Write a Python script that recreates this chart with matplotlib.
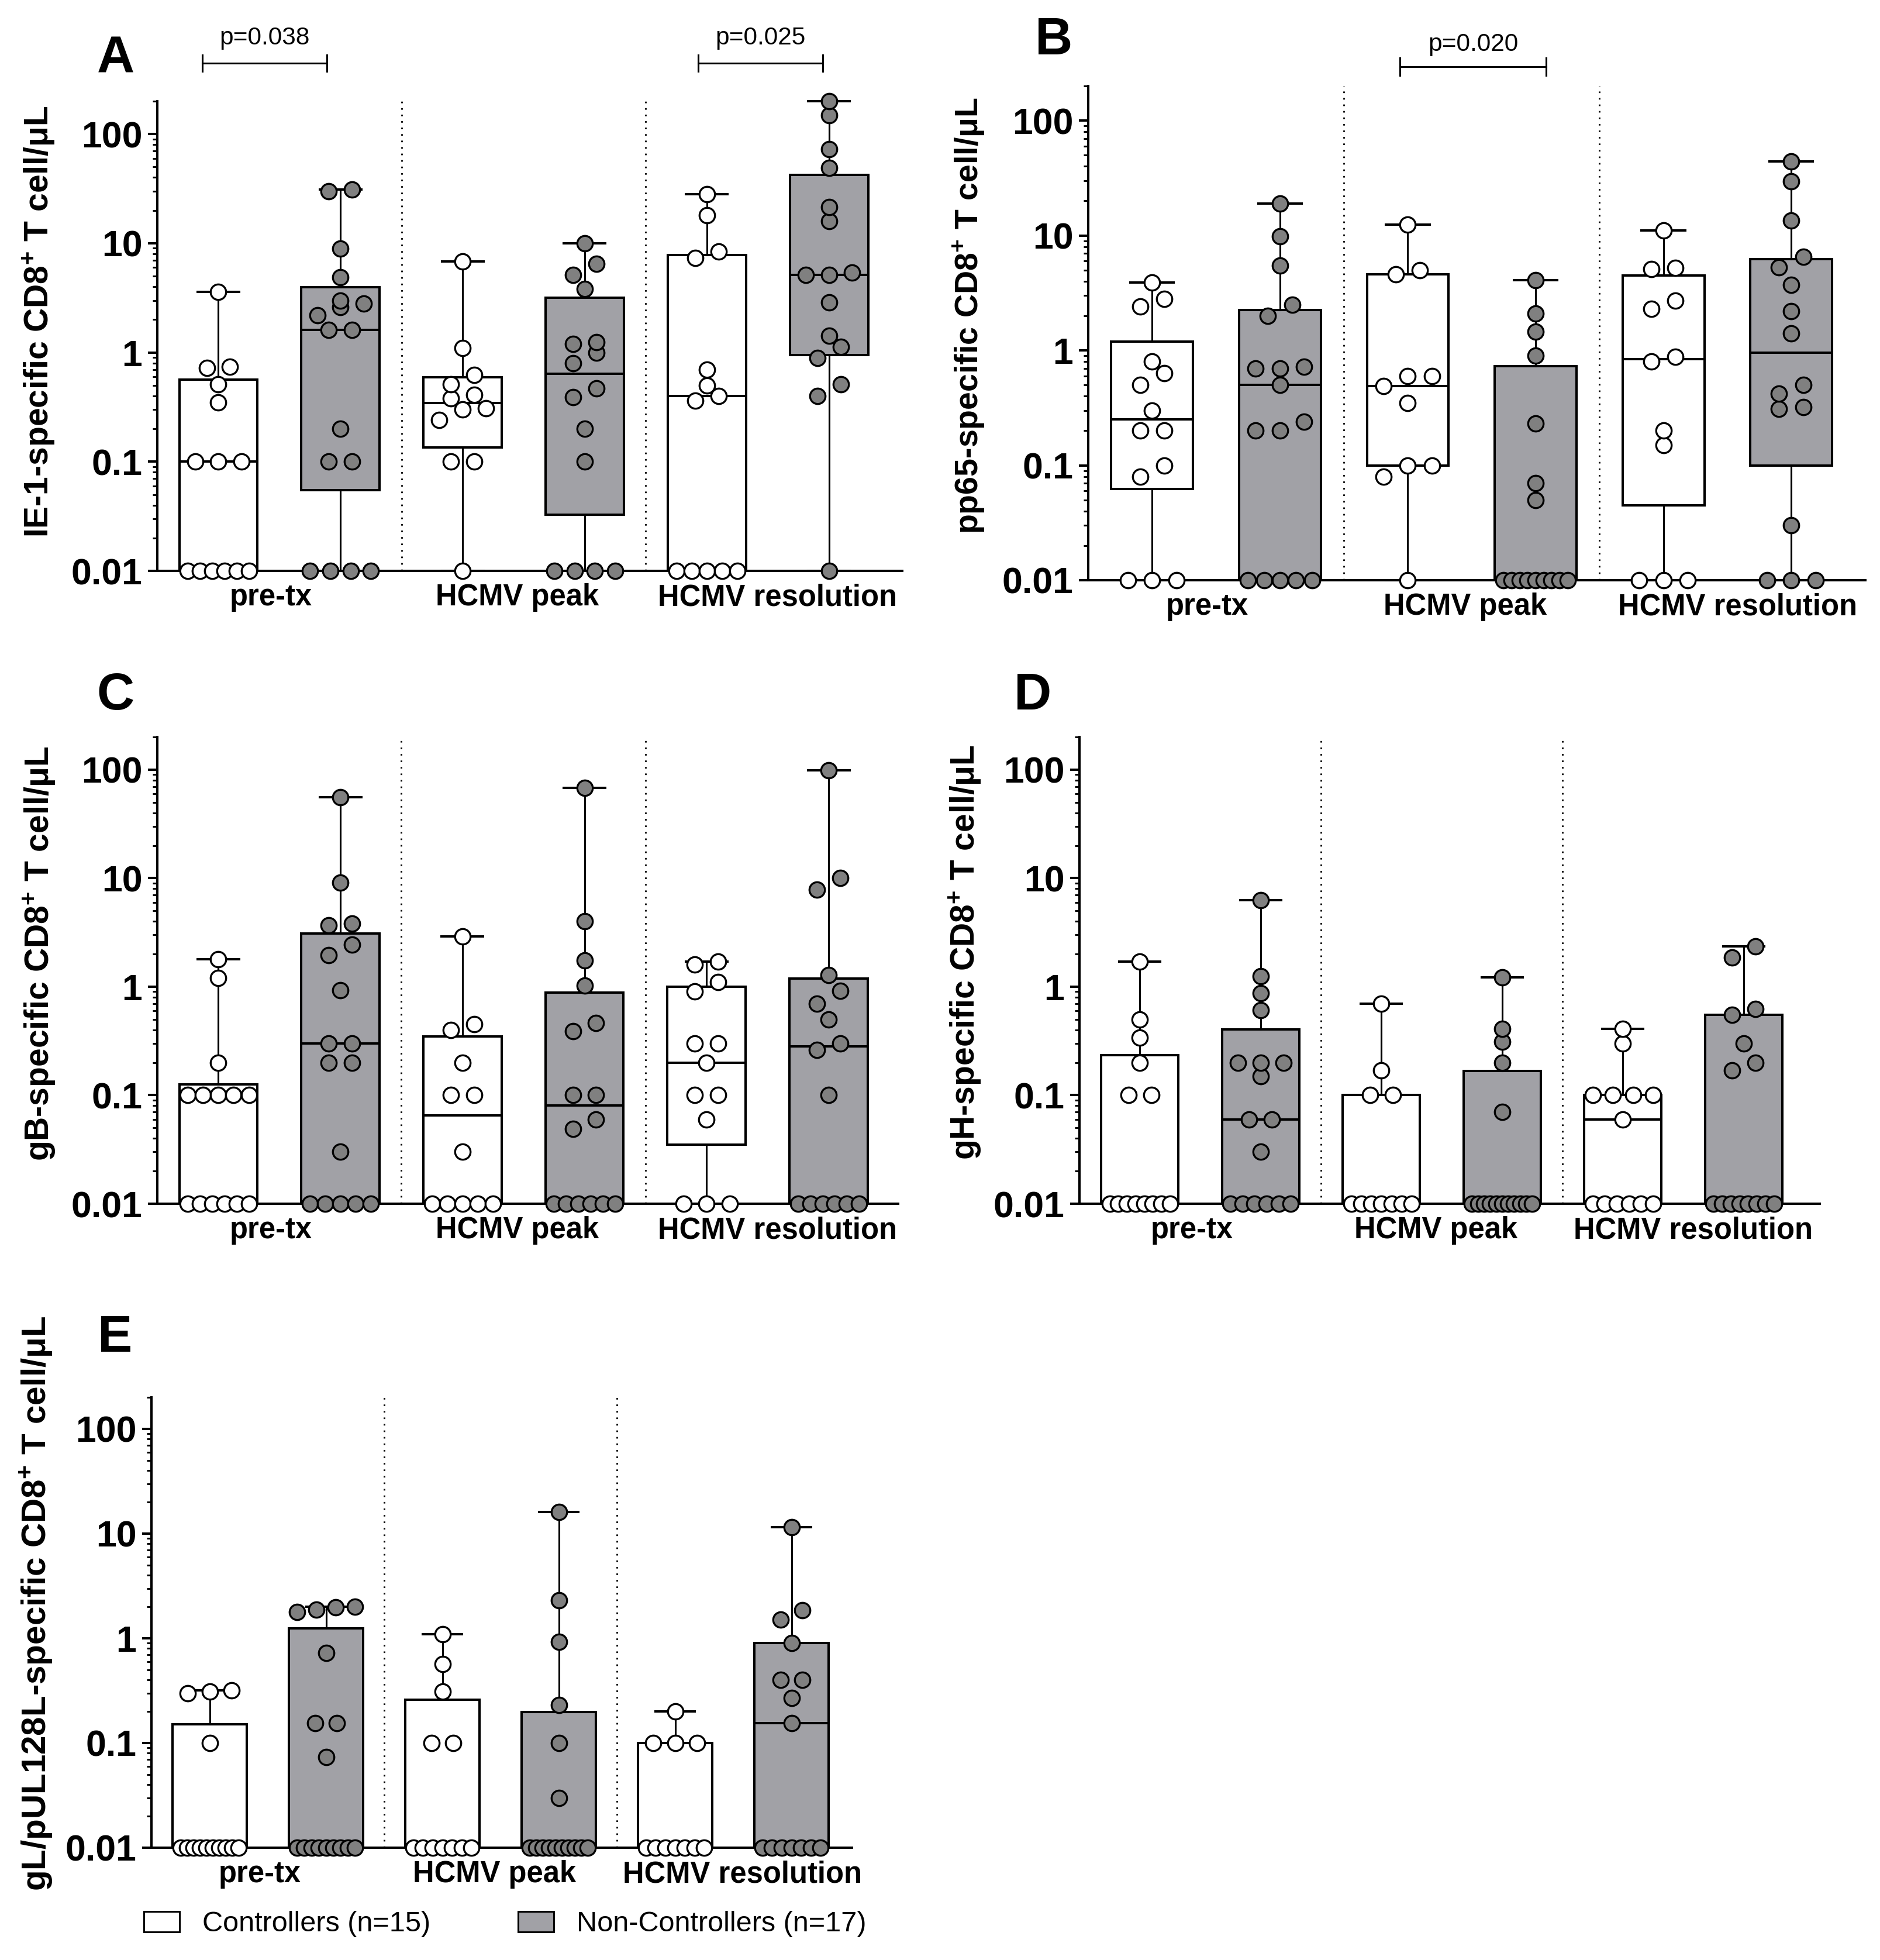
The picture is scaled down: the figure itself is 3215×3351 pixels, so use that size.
import numpy as np
import matplotlib
matplotlib.use('Agg')
import matplotlib.pyplot as plt
from matplotlib.patches import Patch
from matplotlib.ticker import FixedLocator, LogLocator, NullFormatter

plt.rcParams['mathtext.fontset'] = 'custom'
plt.rcParams['mathtext.rm'] = 'Liberation Sans'
plt.rcParams['mathtext.bf'] = 'Liberation Sans:bold'

W, H = 3215, 3351
FONT = ['Liberation Sans', 'DejaVu Sans']

timepoints = ['pre-tx', 'HCMV peak', 'HCMV resolution']
legend_labels = ['Controllers (n=15)', 'Non-Controllers (n=17)']
yticks = [0.01, 0.1, 1, 10, 100]
ytick_labels = ['0.01', '0.1', '1', '10', '100']

# each list: [pre-tx, HCMV peak, HCMV resolution], cells/uL (0.01 = below detection)
ie1_ctrl = [
    [0.01, 0.01, 0.01, 0.01, 0.01, 0.01, 0.1, 0.1, 0.1, 0.35, 0.51, 0.72, 0.74, 3.6],
    [0.01, 0.1, 0.1, 0.24, 0.30, 0.31, 0.38, 0.41, 0.51, 0.62, 1.1, 6.8],
    [0.01, 0.01, 0.01, 0.01, 0.01, 0.36, 0.4, 0.5, 0.7, 7.3, 8.4, 18, 28],
]
ie1_nonc = [
    [0.01, 0.01, 0.01, 0.01, 0.1, 0.1, 0.2, 1.6, 1.6, 2.2, 2.6, 2.8, 3.0, 4.9, 8.9, 30, 31],
    [0.01, 0.01, 0.01, 0.01, 0.1, 0.2, 0.39, 0.47, 0.8, 0.99, 1.2, 1.25, 3.8, 5.1, 6.5, 10],
    [0.01, 0.4, 0.51, 0.89, 1.12, 1.42, 2.86, 5.1, 5.1, 5.4, 16, 21.5, 49, 73, 149, 200],
]
pp65_ctrl = [
    [0.01, 0.01, 0.01, 0.08, 0.1, 0.2, 0.2, 0.3, 0.5, 0.63, 0.8, 2.4, 2.8, 3.9],
    [0.01, 0.08, 0.1, 0.1, 0.35, 0.49, 0.6, 0.6, 4.6, 5.0, 12.5],
    [0.01, 0.01, 0.01, 0.15, 0.2, 0.8, 0.88, 2.3, 2.7, 5.1, 5.2, 11],
]
pp65_nonc = [
    [0.01, 0.01, 0.01, 0.01, 0.01, 0.2, 0.2, 0.24, 0.5, 0.7, 0.7, 0.72, 2.0, 2.5, 5.5, 9.8, 19],
    [0.01, 0.01, 0.01, 0.01, 0.01, 0.01, 0.01, 0.01, 0.01, 0.05, 0.07, 0.23, 0.9, 1.45, 2.1, 4.1],
    [0.01, 0.01, 0.01, 0.03, 0.31, 0.32, 0.42, 0.5, 1.4, 2.2, 3.7, 5.3, 6.5, 13.5, 29.5, 44],
]
gb_ctrl = [
    [0.01, 0.01, 0.01, 0.01, 0.01, 0.01, 0.1, 0.1, 0.1, 0.1, 0.1, 0.2, 1.2, 1.8],
    [0.01, 0.01, 0.01, 0.01, 0.01, 0.03, 0.1, 0.1, 0.2, 0.4, 0.45, 2.9],
    [0.01, 0.01, 0.01, 0.06, 0.1, 0.1, 0.2, 0.3, 0.3, 0.9, 1.1, 1.6, 1.7],
]
gb_nonc = [
    [0.01, 0.01, 0.01, 0.01, 0.01, 0.03, 0.2, 0.2, 0.3, 0.3, 0.93, 1.95, 2.45, 3.7, 3.8, 9.1, 56],
    [0.01, 0.01, 0.01, 0.01, 0.01, 0.01, 0.049, 0.06, 0.1, 0.1, 0.39, 0.46, 1.02, 1.75, 4.0, 68],
    [0.01, 0.01, 0.01, 0.01, 0.01, 0.01, 0.1, 0.26, 0.3, 0.5, 0.7, 0.92, 1.28, 7.8, 10, 98],
]
gh_ctrl = [
    [0.01, 0.01, 0.01, 0.01, 0.01, 0.01, 0.01, 0.01, 0.1, 0.1, 0.2, 0.34, 0.5, 1.7],
    [0.01, 0.01, 0.01, 0.01, 0.01, 0.01, 0.01, 0.1, 0.1, 0.17, 0.7],
    [0.01, 0.01, 0.01, 0.01, 0.01, 0.01, 0.06, 0.1, 0.1, 0.1, 0.1, 0.3, 0.41],
]
gh_nonc = [
    [0.01, 0.01, 0.01, 0.01, 0.01, 0.01, 0.03, 0.06, 0.06, 0.15, 0.2, 0.2, 0.2, 0.61, 0.87, 1.25, 6.3],
    [0.01, 0.01, 0.01, 0.01, 0.01, 0.01, 0.01, 0.01, 0.01, 0.01, 0.01, 0.07, 0.2, 0.31, 0.41, 1.22],
    [0.01, 0.01, 0.01, 0.01, 0.01, 0.01, 0.01, 0.01, 0.17, 0.2, 0.3, 0.55, 0.62, 1.85, 2.35],
]
gl_ctrl = [
    [0.01, 0.01, 0.01, 0.01, 0.01, 0.01, 0.01, 0.01, 0.01, 0.01, 0.1, 0.3, 0.31, 0.32],
    [0.01, 0.01, 0.01, 0.01, 0.01, 0.01, 0.01, 0.1, 0.1, 0.31, 0.57, 1.1],
    [0.01, 0.01, 0.01, 0.01, 0.01, 0.01, 0.01, 0.1, 0.1, 0.1, 0.2],
]
gl_nonc = [
    [0.01, 0.01, 0.01, 0.01, 0.01, 0.01, 0.01, 0.01, 0.01, 0.073, 0.155, 0.155, 0.72, 1.78, 1.87, 1.97, 2.0],
    [0.01, 0.01, 0.01, 0.01, 0.01, 0.01, 0.01, 0.01, 0.01, 0.01, 0.03, 0.1, 0.23, 0.92, 2.3, 16],
    [0.01, 0.01, 0.01, 0.01, 0.01, 0.01, 0.01, 0.155, 0.27, 0.4, 0.4, 0.9, 1.5, 1.85, 11.5],
]

# p-value brackets per panel: (x start, x end, text)
brackets_a = [(-0.13, 0.89, 'p=0.038'), (3.93, 4.95, 'p=0.025')]
brackets_b = [(1.94, 3.08, 'p=0.020')]

panels = [
    ('A', 'IE-1-specific CD8$^{\\mathbf{+}}$ T cell/μL', ie1_ctrl, ie1_nonc, brackets_a),
    ('B', 'pp65-specific CD8$^{\\mathbf{+}}$ T cell/μL', pp65_ctrl, pp65_nonc, brackets_b),
    ('C', 'gB-specific CD8$^{\\mathbf{+}}$ T cell/μL', gb_ctrl, gb_nonc, []),
    ('D', 'gH-specific CD8$^{\\mathbf{+}}$ T cell/μL', gh_ctrl, gh_nonc, []),
    ('E', 'gL/pUL128L-specific CD8$^{\\mathbf{+}}$ T cell/μL', gl_ctrl, gl_nonc, []),
]

# axes rectangles in pixels: left, top, right, bottom, and right x limit
rects = [(269, 173, 1543, 976), (1861, 147, 3190, 992), (269, 1260, 1536, 2058),
         (1846, 1260, 3112, 2058), (259, 2389, 1457, 3159)]
xmax = [5.6, 5.58, 5.57, 5.63, 5.52]
letter_pos = [(198, 102), (1802, 70), (197, 1190), (1766, 1190), (197, 2288)]
ylabel_pos = [(66, 550), (1657, 540), (67, 1630), (1650, 1628), (62, 2741)]
ylabel_size = [41, 40, 41, 41, 42]
bracket_y = [(1.081, 1.134), (1.039, 1.084)]

CTRL_FILL = 'white'
NONC_FILL = '#a1a1a6'
NONC_DOT = '#808080'


def swarm_offsets(vals, step=0.19, half=0.25, thr=0.12):
    # spread points that sit at nearly the same height side by side
    vals = np.asarray(vals, float)
    order = np.argsort(vals, kind='stable')
    logs = np.log10(vals[order])
    offs = np.zeros(len(vals))
    rows, cur, first = [], [order[0]], logs[0]
    for k in range(1, len(order)):
        if logs[k] - first > thr:
            rows.append(cur)
            cur, first = [order[k]], logs[k]
        else:
            cur.append(order[k])
    rows.append(cur)
    for r in rows:
        m = len(r)
        if m > 1:
            s = min(step, 2 * half / (m - 1))
            offs[r] = (np.arange(m) - (m - 1) / 2) * s
    return offs


fig = plt.figure(figsize=(W / 100, H / 100), dpi=100)

for p, (letter, ylab, ctrl, nonc, brs) in enumerate(panels):
    l, t, r, b = rects[p]
    ax = fig.add_axes([l / W, 1 - b / H, (r - l) / W, (b - t) / H])

    groups = []
    for i in range(3):
        groups += [ctrl[i], nonc[i]]
    stats = []
    for v in groups:
        q1, med, q3 = np.percentile(v, [25, 50, 75], method='weibull')
        stats.append(dict(med=med, q1=q1, q3=q3, whislo=min(v), whishi=max(v), fliers=[]))
    bp = ax.bxp(stats, positions=range(6), widths=0.64, capwidths=0.34, patch_artist=True,
                showfliers=False, manage_ticks=False,
                boxprops=dict(linewidth=2.9, edgecolor='black'),
                medianprops=dict(color='black', linewidth=2.9),
                whiskerprops=dict(color='black', linewidth=2.2),
                capprops=dict(color='black', linewidth=2.9))
    for i, box in enumerate(bp['boxes']):
        box.set_facecolor(CTRL_FILL if i % 2 == 0 else NONC_FILL)
    for c in bp['caps'] + bp['whiskers']:
        c.set_clip_on(False)

    for i, v in enumerate(groups):
        x = i + swarm_offsets(v)
        ax.plot(x, v, 'o', ls='none', ms=19, mew=2.4, mec='black',
                mfc=CTRL_FILL if i % 2 == 0 else NONC_DOT, clip_on=False, zorder=5)

    for xs in (1.5, 3.5):
        ax.axvline(xs, color='black', lw=2, ls=(0, (1, 3)), zorder=1)

    ax.set_yscale('log')
    ax.set_ylim(0.01, 200)
    ax.set_xlim(-0.5, xmax[p])
    ax.set_xticks([])
    ax.yaxis.set_major_locator(FixedLocator(yticks))
    ax.yaxis.set_minor_locator(LogLocator(subs=np.arange(2, 10)))
    ax.yaxis.set_minor_formatter(NullFormatter())
    ax.set_yticklabels(ytick_labels, fontsize=45, fontweight='bold', family=FONT)
    ax.tick_params(axis='y', which='major', length=11.5, width=2.9, pad=7)
    ax.tick_params(axis='y', which='minor', length=5.8, width=2.2)
    for s in ('top', 'right'):
        ax.spines[s].set_visible(False)
    for s in ('left', 'bottom'):
        ax.spines[s].set_linewidth(2.9)

    for xc, name in zip([0.43, 2.45, 4.58], timepoints):
        ax.annotate(name, (xc, 0), xycoords=ax.get_xaxis_transform(), xytext=(0, -33),
                    textcoords='offset points', ha='center', va='center',
                    fontsize=36.5, fontweight='bold', family=FONT, annotation_clip=False)

    trans = ax.get_xaxis_transform()
    for x0, x1, txt in brs:
        yb, yt = bracket_y[p]
        ax.plot([x0, x1], [yb, yb], color='black', lw=2.2, transform=trans, clip_on=False)
        for xe in (x0, x1):
            ax.plot([xe, xe], [yb - 0.018, yb + 0.018], color='black', lw=2.2,
                    transform=trans, clip_on=False)
        ax.text((x0 + x1) / 2, yt, txt, transform=trans, ha='center', va='center',
                fontsize=30.5, family=FONT)

    fig.text(letter_pos[p][0] / W, 1 - letter_pos[p][1] / H, letter, ha='center', va='center',
             fontsize=64, fontweight='bold', family=FONT)
    fig.text(ylabel_pos[p][0] / W, 1 - ylabel_pos[p][1] / H, ylab, rotation=90,
             ha='center', va='center', fontsize=ylabel_size[p], fontweight='bold', family=FONT)

handles = [Patch(facecolor=CTRL_FILL, edgecolor='black', linewidth=2.2),
           Patch(facecolor=NONC_FILL, edgecolor='black', linewidth=2.2)]
fig.legend(handles, legend_labels, loc='center left', bbox_to_anchor=(246 / W, 1 - 3290 / H),
           ncol=2, frameon=False, borderpad=0, borderaxespad=0, handlelength=1.25,
           handleheight=0.7, handletextpad=0.8, columnspacing=3.1,
           prop=dict(family=FONT, size=35))

fig.savefig('out.png', dpi=100)
